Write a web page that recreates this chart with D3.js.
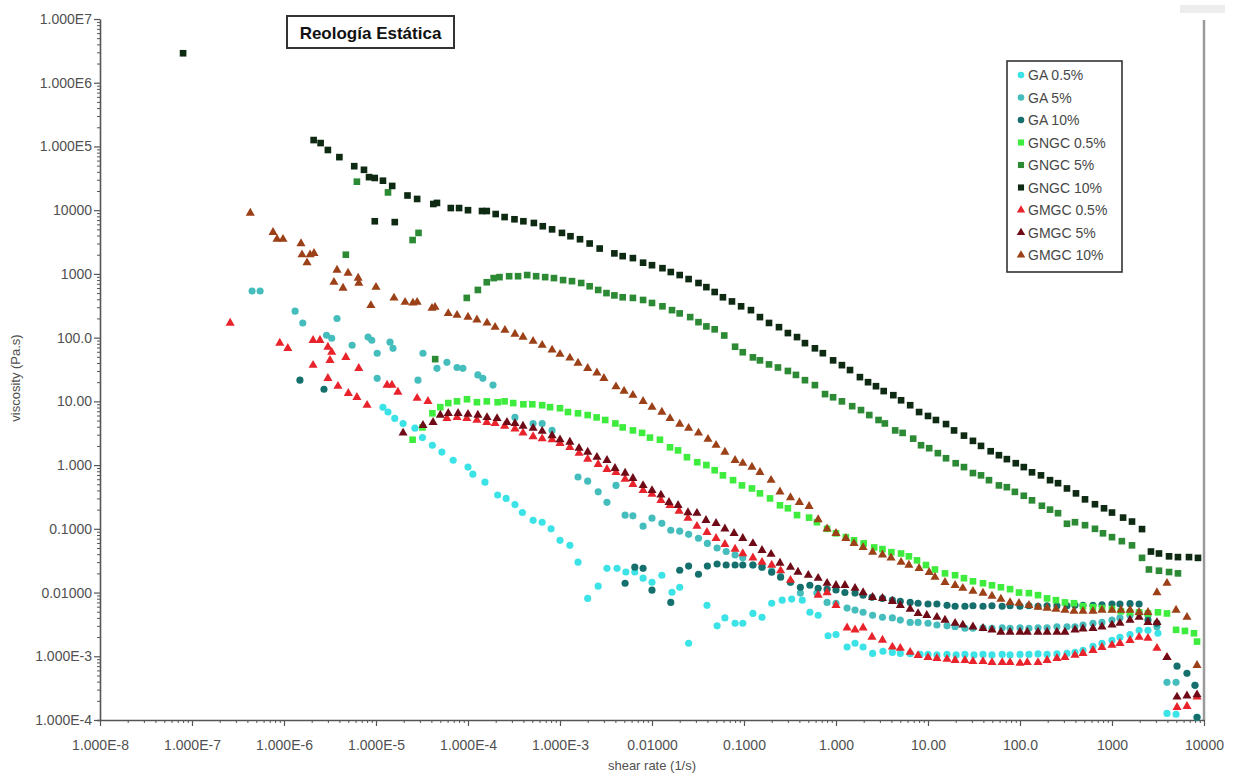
<!DOCTYPE html>
<html><head><meta charset="utf-8">
<script src="https://cdn.jsdelivr.net/npm/d3@7"></script>
<style>body{margin:0;background:#fff;} svg{display:block;font-family:"Liberation Sans",Arial,sans-serif;}</style>
</head><body><svg id="c" width="1233" height="773"></svg>
<script>
// ---- data: [shear rate (1/s), viscosity (Pa.s)] ----
const seriesNames = ["GA 0.5%","GA 5%","GA 10%","GNGC 0.5%","GNGC 5%","GNGC 10%","GMGC 0.5%","GMGC 5%","GMGC 10%"];
const xTickLabels = ["1.000E-8","1.000E-7","1.000E-6","1.000E-5","1.000E-4","1.000E-3","0.01000","0.1000","1.000","10.00","100.0","1000","10000"];
const yTickLabels = ["1.000E-4","1.000E-3","0.01000","0.1000","1.000","10.00","100.0","1000","10000","1.000E5","1.000E6","1.000E7"];

const ga05 = [[1.19e-5,8.1],[1.35e-5,6.8],[1.6e-5,5.4],[1.97e-5,4.5],[2.65e-5,3.8],[3.2e-5,2.7],[4.1e-5,2.05],[5.2e-5,1.6],[6.9e-5,1.19],[1.0e-4,0.93],[1.13e-4,0.72],[1.53e-4,0.54],[2.1e-4,0.34],[2.6e-4,0.30],[3.24e-4,0.24],[3.9e-4,0.18],[5.1e-4,0.136],[6.4e-4,0.127],[8.0e-4,0.10],[1.0e-3,0.066],[1.28e-3,0.055],[1.57e-3,0.030],[2.0e-3,0.0081],[2.6e-3,0.0126],[3.24e-3,0.024],[4.17e-3,0.024],[5.2e-3,0.021],[6.5e-3,0.021],[8.0e-3,0.0168],[1.0e-2,0.0145],[1.28e-2,0.0187],[1.65e-2,0.0101],[2.0e-2,0.0121],[2.5e-2,0.0016],[3.96e-2,0.0063],[5.1e-2,0.003],[6.2e-2,0.004],[8.0e-2,0.0033],[9.7e-2,0.0033],[0.125,0.0047],[0.157,0.0041],[0.20,0.0068],[0.26,0.0076],[0.33,0.0079],[0.43,0.0076],[0.52,0.0049],[0.64,0.0044],[0.82,0.0021],[1.0,0.0022],[1.32,0.0014],[1.61,0.0016],[1.97,0.0014],[2.5,1.11e-3],[3.24,1.2e-3],[4.1,1.15e-3],[5.0,1.11e-3],[6.4,1.1e-3],[8.2,1.07e-3],[10,1.07e-3],[12.5,1.05e-3],[16.1,1.07e-3],[20.2,1.05e-3],[25.2,1.07e-3],[31.6,1.05e-3],[39.6,1.07e-3],[49.6,1.05e-3],[64,1.07e-3],[78,1.05e-3],[100,1.07e-3],[125,1.07e-3],[157,1.09e-3],[197,1.07e-3],[252,1.09e-3],[324,1.11e-3],[396,1.15e-3],[484,1.24e-3],[621,1.43e-3],[778,1.6e-3],[1000,1.78e-3],[1220,1.99e-3],[1570,2.2e-3],[1970,2.56e-3],[2460,2.56e-3],[3160,2.3e-3],[3960,1.27e-4],[4970,1.23e-4],[8400,1.1e-4]];
const ga5 = [[4.5e-7,540],[5.5e-7,540],[1.32e-6,260],[1.6e-6,170],[2.9e-6,109],[3.3e-6,98],[3.77e-6,200],[5.5e-6,76],[8.2e-6,102],[9.0e-6,91],[1.03e-5,57],[1.42e-5,85],[1.53e-5,68],[1.03e-5,23],[2.86e-5,21.5],[3.24e-5,57],[4.6e-5,33],[5.9e-5,41],[7.6e-5,34],[8.8e-5,33],[1.28e-4,26],[1.45e-4,23],[1.87e-4,18],[3.24e-4,5.6],[5.1e-4,4.5],[6.4e-4,4.5],[8.2e-4,3.5],[1.57e-3,0.65],[2.0e-3,0.56],[2.6e-3,0.38],[3.24e-3,0.26],[4.06e-3,0.48],[5.1e-3,0.164],[6.2e-3,0.16],[8.0e-3,0.11],[1.0e-2,0.147],[1.28e-2,0.122],[1.6e-2,0.095],[2.0e-2,0.092],[2.5e-2,0.082],[3.2e-2,0.071],[4.0e-2,0.059],[5.1e-2,0.05],[6.4e-2,0.044],[8.0e-2,0.039],[9.7e-2,0.035],[0.125,0.027],[0.157,0.025],[0.20,0.022],[0.25,0.018],[0.32,0.0145],[0.41,0.0098],[0.62,0.0098],[0.80,0.0070],[1.0,0.0068],[1.32,0.0057],[1.61,0.0053],[1.97,0.0049],[2.5,0.0044],[3.2,0.0041],[4.1,0.0040],[5.0,0.0037],[6.4,0.0034],[7.8,0.0034],[10,0.0033],[12.5,0.0031],[16.1,0.0030],[19.7,0.0029],[25.2,0.00275],[30.8,0.00275],[39.6,0.0028],[49.6,0.00275],[64,0.0028],[78,0.00275],[100,0.0028],[125,0.00275],[157,0.0028],[197,0.0028],[252,0.0029],[324,0.0029],[396,0.0029],[484,0.0031],[621,0.0033],[778,0.0034],[1000,0.0037],[1220,0.004],[1570,0.0044],[1970,0.0049],[2460,0.0044],[3080,0.0029],[3960,3.9e-4],[4970,3.9e-4],[7980,3.5e-4]];
const ga10 = [[1.49e-6,21.5],[2.72e-6,15.5],[5.1e-3,0.014],[6.5e-3,0.025],[8.0e-3,0.024],[1.0e-2,0.0109],[1.6e-2,0.007],[2.0e-2,0.0224],[2.5e-2,0.026],[3.2e-2,0.0194],[4.0e-2,0.026],[5.1e-2,0.028],[6.4e-2,0.027],[8.0e-2,0.027],[9.7e-2,0.027],[0.125,0.027],[0.157,0.025],[0.20,0.0208],[0.25,0.0174],[0.32,0.0145],[0.41,0.0121],[0.52,0.013],[0.64,0.0117],[0.80,0.0113],[1.0,0.011],[1.25,0.010],[1.61,0.0098],[1.97,0.0091],[2.46,0.0084],[3.2,0.0081],[4.1,0.0076],[5.0,0.0073],[6.4,0.0070],[7.8,0.0068],[10,0.0066],[12.5,0.0066],[16.1,0.0063],[19.7,0.0061],[25.2,0.0061],[30.8,0.0062],[39.6,0.0061],[49.6,0.0062],[64,0.0061],[78,0.0062],[100,0.0061],[125,0.0062],[157,0.0061],[197,0.0062],[252,0.0062],[324,0.0062],[396,0.0063],[484,0.0063],[621,0.0063],[778,0.0064],[1000,0.0066],[1220,0.0066],[1570,0.0067],[1970,0.0066],[2460,0.0037],[3080,0.0033],[5090,7.0e-4],[6530,5.4e-4],[7980,3.5e-4],[8400,1.1e-4]];
const gngc05 = [[2.5e-5,2.5],[3.2e-5,3.9],[4.1e-5,6.5],[5.0e-5,8.1],[6.1e-5,9.4],[7.6e-5,10],[9.75e-5,10.8],[1.25e-4,9.7],[1.6e-4,10],[2.1e-4,9.7],[2.5e-4,10],[3.1e-4,9.4],[4.0e-4,9.0],[5.0e-4,9.0],[6.4e-4,8.7],[7.8e-4,8.1],[1.0e-3,7.8],[1.22e-3,6.8],[1.57e-3,6.5],[2.0e-3,6.1],[2.5e-3,5.6],[3.1e-3,5.1],[4.0e-3,4.5],[4.8e-3,3.9],[6.2e-3,3.5],[7.8e-3,3.2],[9.5e-3,2.7],[1.22e-2,2.5],[1.57e-2,1.9],[1.92e-2,1.7],[2.4e-2,1.33],[3.1e-2,1.11],[3.9e-2,1.0],[4.8e-2,0.83],[5.9e-2,0.69],[7.6e-2,0.58],[9.5e-2,0.48],[0.122,0.43],[0.149,0.36],[0.192,0.30],[0.246,0.234],[0.30,0.21],[0.377,0.164],[0.51,0.15],[0.62,0.127],[0.80,0.10],[1.0,0.085],[1.28,0.074],[1.57,0.066],[2.0,0.059],[2.6,0.051],[3.2,0.048],[4.0,0.043],[5.1,0.041],[6.2,0.037],[7.6,0.032],[9.5,0.027],[11.9,0.023],[15.3,0.020],[19.7,0.0187],[24.6,0.0168],[30.8,0.015],[39.6,0.014],[49.6,0.013],[62,0.0121],[78,0.0113],[97.5,0.010],[125,0.0098],[157,0.0091],[197,0.0081],[246,0.0076],[308,0.0070],[386,0.0068],[484,0.0061],[621,0.0059],[778,0.0057],[1000,0.0055],[1250,0.0051],[1570,0.0049],[1970,0.0049],[2460,0.0047],[3160,0.0049],[3960,0.0047],[4970,0.0026],[6210,0.0025],[7780,0.0023],[8400,0.0017]];
const gngc5 = [[4.7e-6,2.0e3],[6.2e-6,2.8e4],[1.35e-5,1.9e4],[2.5e-5,3.4e3],[2.9e-5,4.4e3],[4.4e-5,46],[9.7e-5,420],[1.28e-4,560],[1.6e-4,740],[1.9e-4,860],[2.2e-4,890],[2.8e-4,920],[3.5e-4,920],[4.4e-4,960],[5.5e-4,920],[6.9e-4,890],[8.6e-4,860],[1.08e-3,800],[1.35e-3,770],[1.7e-3,720],[2.1e-3,640],[2.6e-3,560],[3.2e-3,500],[3.9e-3,460],[4.8e-3,430],[6.2e-3,420],[8.0e-3,390],[1.0e-2,350],[1.3e-2,310],[1.65e-2,270],[2.0e-2,240],[2.6e-2,210],[3.2e-2,175],[3.9e-2,150],[4.8e-2,135],[6.1e-2,108],[8.0e-2,72],[9.7e-2,59],[0.125,49],[0.149,44],[0.187,38],[0.234,34],[0.30,30],[0.367,26],[0.46,21.5],[0.59,18],[0.76,13],[0.93,11.6],[1.16,10],[1.5,8.4],[1.87,7.3],[2.3,6.1],[2.9,5.1],[3.4,4.5],[4.4,3.5],[5.3,3.2],[6.9,2.6],[8.4,2.05],[10.3,1.84],[12.8,1.54],[15.7,1.28],[20,1.07],[24.6,0.93],[30.8,0.75],[37.7,0.69],[46,0.58],[59,0.48],[72,0.45],[88,0.38],[110,0.33],[135,0.28],[173,0.23],[212,0.20],[259,0.176],[324,0.12],[396,0.127],[509,0.114],[653,0.10],[798,0.085],[1000,0.074],[1280,0.064],[1650,0.055],[2120,0.035],[2520,0.023],[3240,0.022],[4170,0.021],[5210,0.020]];
const gngc10 = [[8.0e-8,2.9e6],[2.1e-6,1.26e5],[2.5e-6,1.13e5],[3.0e-6,8.8e4],[4.0e-6,6.8e4],[5.8e-6,4.9e4],[7.4e-6,4.3e4],[8.4e-6,3.3e4],[9.7e-6,3.2e4],[1.19e-5,2.9e4],[1.5e-5,2.4e4],[9.7e-6,6.7e3],[1.6e-5,6.5e3],[2.2e-5,1.7e4],[2.8e-5,1.5e4],[4.2e-5,1.25e4],[4.6e-5,1.3e4],[6.5e-5,1.08e4],[8.0e-5,1.08e4],[1.0e-4,1.0e4],[1.42e-4,9.7e3],[1.6e-4,9.7e3],[2.0e-4,8.7e3],[2.5e-4,7.8e3],[3.2e-4,7.2e3],[4.0e-4,6.7e3],[5.2e-4,6.3e3],[6.5e-4,5.6e3],[8.2e-4,5.0e3],[1.05e-3,4.4e3],[1.3e-3,3.9e3],[1.65e-3,3.5e3],[2.1e-3,3.0e3],[2.7e-3,2.5e3],[3.9e-3,2.1e3],[4.8e-3,1.9e3],[6.2e-3,1.77e3],[8.0e-3,1.5e3],[1.0e-2,1.37e3],[1.3e-2,1.23e3],[1.6e-2,1.07e3],[2.0e-2,960],[2.5e-2,830],[3.2e-2,720],[3.9e-2,620],[4.8e-2,520],[5.9e-2,430],[7.4e-2,370],[9.3e-2,310],[0.119,270],[0.149,210],[0.187,170],[0.24,146],[0.30,118],[0.377,102],[0.46,82],[0.59,68],[0.72,57],[0.93,44],[1.16,37],[1.42,31],[1.82,24],[2.23,20],[2.72,17.3],[3.3,14.5],[4.2,12.5],[5.1,10.4],[6.4,8.7],[8.0,6.8],[10,5.9],[12.2,5.1],[15.7,4.4],[19.2,3.5],[24.6,2.9],[30.8,2.4],[37.7,2.0],[48,1.65],[59,1.43],[72,1.24],[90,1.07],[110,0.93],[135,0.77],[169,0.69],[212,0.58],[259,0.52],[324,0.43],[406,0.36],[509,0.29],[653,0.243],[819,0.21],[1000,0.18],[1320,0.15],[1650,0.13],[2120,0.099],[2650,0.044],[3240,0.041],[4170,0.037],[5210,0.036],[6870,0.036],[8600,0.035]];
const gmgc05 = [[2.6e-7,169],[9.0e-7,82],[1.1e-6,68],[2.07e-6,91],[2.46e-6,91],[3.0e-6,71],[3.3e-6,59],[2.07e-6,37],[3.16e-6,44],[4.7e-6,49],[6.5e-6,33],[3.0e-6,23],[3.86e-6,17.3],[5.0e-6,13.4],[6.2e-6,11.6],[8.0e-6,8.7],[1.32e-5,18],[1.49e-5,18],[1.73e-5,14],[2.8e-5,11.2],[3.67e-5,10],[5.9e-5,5.4],[7.6e-5,5.6],[9.7e-5,5.4],[1.25e-4,5.1],[1.6e-4,4.7],[1.97e-4,4.5],[2.5e-4,4.1],[3.24e-4,3.7],[3.96e-4,3.2],[5.1e-4,2.8],[6.4e-4,2.6],[8.2e-4,2.5],[1.0e-3,2.2],[1.28e-3,1.9],[1.61e-3,1.54],[2.0e-3,1.24],[2.6e-3,1.03],[3.24e-3,0.86],[4.06e-3,0.77],[5.1e-3,0.60],[6.2e-3,0.50],[8.0e-3,0.40],[1.0e-2,0.35],[1.25e-2,0.28],[1.57e-2,0.234],[1.97e-2,0.19],[2.46e-2,0.147],[3.08e-2,0.11],[3.96e-2,0.088],[4.97e-2,0.071],[6.2e-2,0.057],[8.0e-2,0.048],[9.7e-2,0.041],[0.125,0.035],[0.157,0.030],[0.20,0.027],[0.25,0.022],[0.32,0.0156],[0.64,0.0091],[0.80,0.010],[1.0,0.0063],[1.32,0.0028],[1.61,0.0026],[1.97,0.0028],[2.46,0.002],[3.2,0.0018],[4.1,0.0014],[5.0,0.00134],[6.4,0.00116],[7.8,0.00103],[10,9.6e-4],[12.5,9.3e-4],[16.1,9.0e-4],[19.7,8.65e-4],[25.2,8.65e-4],[30.8,8.3e-4],[39.6,8.3e-4],[49.6,8.0e-4],[64,8.0e-4],[78,8.0e-4],[100,7.8e-4],[120,8.0e-4],[157,8.0e-4],[197,8.65e-4],[252,9.3e-4],[308,9.6e-4],[396,1.04e-3],[484,1.11e-3],[621,1.24e-3],[778,1.38e-3],[1000,1.49e-3],[1220,1.6e-3],[1570,1.78e-3],[1970,1.99e-3],[2460,1.92e-3],[3080,1.34e-3],[3960,9.6e-4],[5090,1.58e-4],[6530,1.64e-4],[8400,2.3e-4]];
const gmgc5 = [[1.97e-5,3.2],[3.24e-5,4.2],[4.17e-5,4.7],[5.0e-5,6.1],[6.1e-5,6.5],[7.8e-5,6.5],[1.0e-4,6.3],[1.28e-4,6.1],[1.61e-4,5.6],[2.07e-4,5.4],[2.65e-4,4.7],[3.24e-4,4.5],[3.96e-4,4.1],[5.1e-4,3.8],[6.4e-4,3.4],[8.2e-4,2.9],[1.0e-3,2.5],[1.28e-3,2.3],[1.61e-3,1.84],[2.0e-3,1.6],[2.52e-3,1.33],[3.24e-3,1.19],[3.96e-3,0.89],[5.1e-3,0.75],[6.2e-3,0.62],[8.0e-3,0.48],[1.0e-2,0.40],[1.25e-2,0.34],[1.53e-2,0.26],[1.92e-2,0.234],[2.46e-2,0.18],[3.08e-2,0.176],[3.86e-2,0.136],[4.97e-2,0.122],[6.2e-2,0.10],[7.8e-2,0.085],[9.7e-2,0.071],[0.125,0.059],[0.157,0.046],[0.197,0.040],[0.246,0.029],[0.32,0.025],[0.386,0.021],[0.50,0.0187],[0.64,0.0168],[0.80,0.014],[1.0,0.013],[1.25,0.013],[1.61,0.0117],[1.97,0.010],[2.5,0.0084],[3.2,0.0081],[4.1,0.0073],[5.0,0.0063],[6.4,0.0055],[7.8,0.0047],[9.7,0.0044],[12.5,0.0041],[15.3,0.0037],[19.7,0.0033],[23.9,0.0031],[30.8,0.0029],[39.6,0.00275],[49.6,0.0026],[62,0.0024],[78,0.0024],[100,0.0024],[120,0.0024],[157,0.0024],[197,0.0024],[252,0.0024],[308,0.0024],[396,0.0026],[484,0.0027],[621,0.00275],[778,0.0029],[1000,0.0031],[1220,0.0033],[1570,0.0037],[1970,0.0041],[2460,0.0034],[3080,0.0034],[3960,9.6e-4],[5090,2.3e-4],[6530,2.4e-4],[8400,2.5e-4]];
const gmgc10 = [[4.3e-7,9.0e3],[7.6e-7,4.5e3],[8.4e-7,3.5e3],[9.75e-7,3.5e3],[1.53e-6,3.0e3],[1.57e-6,2.0e3],[1.92e-6,2.0e3],[2.12e-6,2.1e3],[1.78e-6,1.5e3],[3.77e-6,1.15e3],[4.97e-6,1.03e3],[6.4e-6,860],[3.49e-6,740],[4.38e-6,600],[6.5e-6,720],[1.0e-5,620],[8.8e-6,320],[1.57e-5,420],[2.07e-5,360],[2.52e-5,350],[2.8e-5,360],[4.06e-5,290],[4.38e-5,300],[6.1e-5,240],[7.6e-5,225],[1.0e-4,210],[1.25e-4,190],[1.61e-4,170],[1.97e-4,146],[2.52e-4,131],[3.24e-4,114],[3.96e-4,102],[5.1e-4,88],[6.4e-4,76],[8.2e-4,64],[1.0e-3,55],[1.28e-3,48],[1.57e-3,40],[2.0e-3,33],[2.52e-3,28],[3.0e-3,23],[4.06e-3,17],[4.97e-3,14.5],[6.2e-3,12.5],[8.0e-3,10],[1.0e-2,8.1],[1.28e-2,6.8],[1.57e-2,5.4],[2.0e-2,4.4],[2.5e-2,3.8],[3.2e-2,3.2],[4.06e-2,2.55],[4.97e-2,2.05],[6.2e-2,1.6],[8.0e-2,1.19],[9.7e-2,1.07],[0.122,0.93],[0.149,0.77],[0.197,0.58],[0.246,0.38],[0.32,0.31],[0.40,0.26],[0.51,0.226],[0.64,0.14],[0.80,0.10],[1.0,0.085],[1.28,0.071],[1.57,0.059],[1.97,0.051],[2.5,0.043],[3.2,0.039],[3.96,0.035],[5.1,0.030],[6.2,0.027],[8.0,0.024],[10.3,0.0208],[11.9,0.0174],[15.3,0.0145],[19.7,0.013],[23.9,0.0117],[30.8,0.0105],[39.6,0.0098],[49.6,0.0088],[62,0.0079],[78,0.007],[97.5,0.0068],[125,0.0063],[157,0.0059],[197,0.0057],[246,0.0055],[308,0.0053],[386,0.0051],[484,0.0051],[621,0.0051],[778,0.0053],[1000,0.0053],[1250,0.0053],[1570,0.0053],[1970,0.0049],[2460,0.0049],[3080,0.010],[3960,0.014],[4970,0.0053],[6530,0.0041],[8400,7.2e-4]];

const seriesData = [ga05, ga5, ga10, gngc05, gngc5, gngc10, gmgc05, gmgc5, gmgc10];
const seriesColors = ["#3be3e6","#45bdbd","#15706d","#3dec3d","#2b8a33","#0e2a12","#e8232b","#6e0b16","#9c4018"];
const seriesShapes = ["circle","circle","circle","square","square","square","triangle","triangle","triangle"];

// ---- drawing ----
const svg = d3.select("#c");
const x = d3.scaleLog().domain([1e-8, 1e4]).range([100, 1204]);
const y = d3.scaleLog().domain([1e-4, 1e7]).range([720, 19]);
const axisColor = "#555";
const symType = {circle: d3.symbolCircle, square: d3.symbolSquare, triangle: d3.symbolTriangle};
const symSize = {circle: 40, square: 44, triangle: 36};

svg.append("rect").attr("width",1233).attr("height",773).attr("fill","#fff");
svg.append("rect").attr("x",1180).attr("y",5).attr("width",45).attr("height",8).attr("fill","#ededed");

// right frame line
svg.append("line").attr("x1",x(1e4)).attr("x2",x(1e4)).attr("y1",y(1e7)+1).attr("y2",y(1e-4))
  .attr("stroke","#9a9a9a").attr("stroke-width",2.5);

function minors(lo, hi){ const v=[]; for(let e=lo;e<hi;e++){ for(let m=2;m<=9;m++) v.push(m*Math.pow(10,e)); } return v; }
const xMajor = d3.range(-8,5).map(e=>Math.pow(10,e));
const yMajor = d3.range(-4,8).map(e=>Math.pow(10,e));

function styleAxis(g){
  g.select(".domain").attr("stroke",axisColor).attr("stroke-width",1.6);
  g.selectAll(".tick line").attr("stroke",axisColor).attr("stroke-width",1.2);
  g.selectAll(".tick text").attr("fill","#505050").style("font-size","14px").style("font-family",'"Liberation Sans",Arial,sans-serif');
}

// X axis
const gxMinor = svg.append("g").attr("transform","translate(0,720)")
  .call(d3.axisBottom(x).tickValues(minors(-8,4)).tickSize(3).tickFormat(""));
gxMinor.select(".domain").remove();
gxMinor.selectAll(".tick line").attr("stroke",axisColor);
const gx = svg.append("g").attr("transform","translate(0,720)")
  .call(d3.axisBottom(x).tickValues(xMajor).tickSize(6).tickSizeOuter(0).tickPadding(14)
    .tickFormat((d,i)=>xTickLabels[i]));
styleAxis(gx);
gx.select(".domain").attr("d","M97,0.5H1204");

// Y axis
const gyMinor = svg.append("g").attr("transform","translate(100,0)")
  .call(d3.axisLeft(y).tickValues(minors(-4,7)).tickSize(3).tickFormat(""));
gyMinor.select(".domain").remove();
gyMinor.selectAll(".tick line").attr("stroke",axisColor);
const gy = svg.append("g").attr("transform","translate(100,0)")
  .call(d3.axisLeft(y).tickValues(yMajor).tickSize(6).tickSizeOuter(0).tickPadding(2)
    .tickFormat((d,i)=>yTickLabels[i]));
styleAxis(gy);

// axis titles
svg.append("text").attr("x",652).attr("y",770).attr("text-anchor","middle")
  .attr("fill","#505050").style("font-size","13px").text("shear rate (1/s)");
svg.append("text").attr("transform","translate(20,378) rotate(-90)").attr("text-anchor","middle")
  .attr("fill","#505050").style("font-size","13px").text("viscosity (Pa.s)");

// points
const plot = svg.append("g");
seriesData.forEach((data, si) => {
  const sym = d3.symbol().type(symType[seriesShapes[si]]).size(symSize[seriesShapes[si]]);
  plot.append("g").selectAll("path").data(data).join("path")
    .attr("transform", d => `translate(${x(d[0])},${y(d[1])})`)
    .attr("d", sym)
    .attr("fill", seriesColors[si]);
});

// title box
svg.append("rect").attr("x",287).attr("y",16).attr("width",167).attr("height",32)
  .attr("fill","#fff").attr("stroke","#333").attr("stroke-width",2);
svg.append("text").attr("x",370.5).attr("y",39).attr("text-anchor","middle")
  .style("font-size","17px").style("font-weight","bold").attr("fill","#111").text("Reología Estática");

// legend
const lg = svg.append("g");
lg.append("rect").attr("x",1007).attr("y",61).attr("width",115).attr("height",211)
  .attr("fill","#fff").attr("stroke","#333").attr("stroke-width",1.6);
seriesNames.forEach((name, i) => {
  const cy = 75 + i*22.5;
  const sym = d3.symbol().type(symType[seriesShapes[i]]).size(symSize[seriesShapes[i]]*0.85);
  lg.append("path").attr("transform",`translate(1021,${cy})`).attr("d",sym).attr("fill",seriesColors[i]);
  lg.append("text").attr("x",1028).attr("y",cy+5).attr("fill","#474747")
    .style("font-size","14px").text(name);
});
</script></body></html>
